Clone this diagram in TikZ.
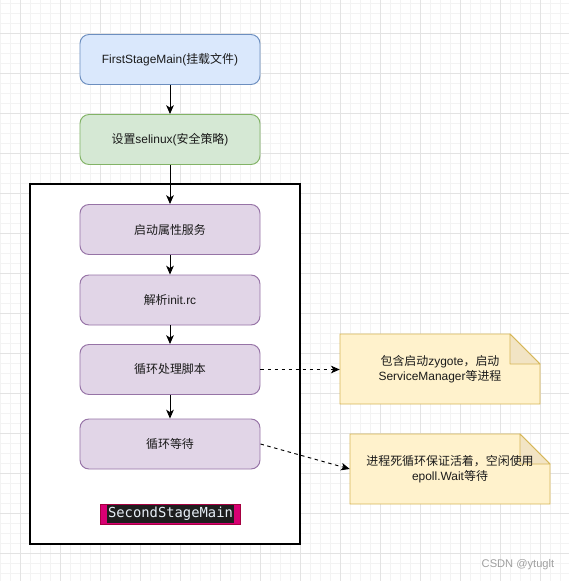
\documentclass[tikz,border=0pt]{standalone}
\usepackage{fontspec}
\setmainfont{Liberation Sans}
\newfontfamily\zh{Noto Sans CJK SC}
\newfontfamily\code{DejaVu Sans Mono}
\usetikzlibrary{arrows.meta}

\definecolor{blueFill}{HTML}{DAE8FC}
\definecolor{blueLine}{HTML}{6C8EBF}
\definecolor{greenFill}{HTML}{D5E8D4}
\definecolor{greenLine}{HTML}{82B366}
\definecolor{purpleFill}{HTML}{E1D5E7}
\definecolor{purpleLine}{HTML}{9673A6}
\definecolor{noteFill}{HTML}{FFF2CC}
\definecolor{noteLine}{HTML}{D6B656}
\definecolor{foldFill}{HTML}{F2E4C4}
\definecolor{magentaFill}{HTML}{D80073}
\definecolor{magentaLine}{HTML}{A50040}
\definecolor{codeBg}{HTML}{1E1E1E}
\definecolor{codeFg}{HTML}{E6EEF6}
\definecolor{gridMinor}{HTML}{F3F3F3}
\definecolor{gridMajor}{HTML}{E3E3E3}
\definecolor{txt}{HTML}{1A1A1A}

\begin{document}
\begin{tikzpicture}[x=0.03cm, y=-0.03cm,
    >={Stealth[length=7.5pt,width=6.5pt,inset=2pt]},
    box/.style={draw, rounded corners=0.27cm, line width=0.8pt, minimum width=5.4cm,
      minimum height=1.5cm, inner sep=0pt, text=txt, font=\fontsize{10.2}{12.75}\selectfont},
    notetext/.style={minimum width=6cm, minimum height=2.1cm, inner sep=0pt, align=center,
      text=txt, font=\fontsize{10.2}{12.75}\selectfont},
    notebox/.style={fill=noteFill, draw=noteLine, line width=0.8pt},
    notefold/.style={fill=foldFill, draw=noteLine, line width=0.8pt, line join=round},
    flow/.style={->, line width=0.8pt},
    link/.style={->, line width=0.8pt, dash pattern=on 3pt off 3pt}]
  \useasboundingbox (0,0) rectangle (569,581);

  \foreach \x in {0,10,...,560} \draw[gridMinor, line width=0.5pt] (\x,0) -- (\x,581);
  \foreach \y in {3,13,...,573} \draw[gridMinor, line width=0.5pt] (0,\y) -- (569,\y);
  \foreach \x in {20,60,...,540} \draw[gridMajor, line width=0.6pt] (\x,0) -- (\x,581);
  \foreach \y in {33,73,...,553} \draw[gridMajor, line width=0.6pt] (0,\y) -- (569,\y);

  \draw[fill=white, line width=0.9pt] (30,184) rectangle (300,544);

  \draw[notebox] (340,334) -- (510,334) -- (540,364) -- (540,404) -- (340,404) -- cycle;
  \draw[notefold] (510,334) -- (510,364) -- (540,364) -- cycle;
  \draw[notebox] (350,434) -- (520,434) -- (550,464) -- (550,504) -- (350,504) -- cycle;
  \draw[notefold] (520,434) -- (520,464) -- (550,464) -- cycle;

  \node[box, fill=blueFill, draw=blueLine] (first) at (170,59.5) {FirstStageMain({\zh 挂载文件})};
  \node[box, fill=greenFill, draw=greenLine] (selinux) at (170,139.5) {{\zh 设置}selinux({\zh 安全策略})};

  \node[box, fill=purpleFill, draw=purpleLine] (prop) at (170,229.5) {\zh 启动属性服务};
  \node[box, fill=purpleFill, draw=purpleLine] (initrc) at (170,300) {{\zh 解析}init.rc};
  \node[box, fill=purpleFill, draw=purpleLine] (script) at (170,369.5) {\zh 循环处理脚本};
  \node[box, fill=purpleFill, draw=purpleLine] (loopwait) at (170,444) {\zh 循环等待};

  \node[fill=magentaFill, draw=magentaLine, line width=0.6pt, minimum width=4.2cm,
    minimum height=0.6cm, inner sep=0pt] (secondbg) at (170,514) {};
  \node[fill=codeBg, text=codeFg, minimum width=3.81cm, minimum height=0.54cm, inner sep=0pt,
    font=\code\fontsize{11.8}{13}\selectfont] (second) at (170.5,514) {SecondStageMain};

  \node[notetext] (zygote) at (440,369) {{\zh 包含启动}zygote{\zh ，启动}\\ServiceManager{\zh 等进程}};
  \node[notetext] (wait) at (450,469) {{\zh 进程死循环保证活着，空闲使用}\\epoll.Wait{\zh 等待}};

  \node[text=gray!75, font=\fontsize{9.5}{11}\selectfont] (mark) at (518,565) {CSDN @ytuglt};

  \draw[flow] (first) -- (selinux);
  \draw[flow] (selinux) -- (prop);
  \draw[flow] (prop) -- (initrc);
  \draw[flow] (initrc) -- (script);
  \draw[flow] (script) -- (loopwait);
  \draw[link] (script.east) -- (script.east -| zygote.west);
  \draw[link] (loopwait.east) -- (wait.west);
\end{tikzpicture}
\end{document}
